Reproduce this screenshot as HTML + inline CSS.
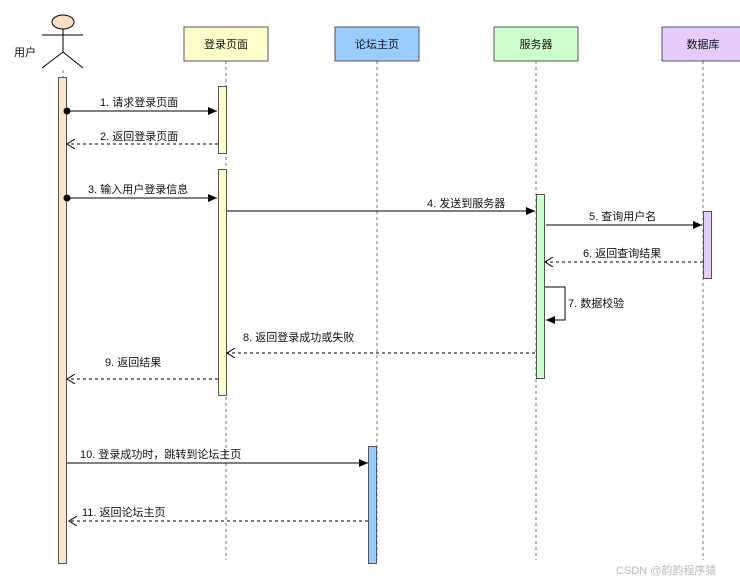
<!DOCTYPE html>
<html><head><meta charset="utf-8"><style>
html,body{margin:0;padding:0;background:#fff;}
svg{display:block}
text{font-family:"Liberation Sans","Noto Sans CJK SC",sans-serif;font-size:11px;fill:#111;}
</style></head><body>
<svg width="740" height="583" viewBox="0 0 740 583" xmlns="http://www.w3.org/2000/svg">
<defs>
<marker id="fa" markerWidth="10" markerHeight="8" refX="9" refY="4" orient="auto" markerUnits="userSpaceOnUse"><path d="M0,0 L9,4 L0,8 Z" fill="#000"/></marker>
<marker id="oa" markerWidth="10" markerHeight="10" refX="8" refY="5" orient="auto" markerUnits="userSpaceOnUse"><path d="M0,0 L8,5 L0,10" fill="none" stroke="#000"/></marker>
</defs>
<g stroke="#777" stroke-dasharray="3,3" stroke-width="1">
<line x1="63" y1="70" x2="63" y2="77"/>
<line x1="226" y1="61" x2="226" y2="560"/>
<line x1="377" y1="61" x2="377" y2="560"/>
<line x1="536" y1="61" x2="536" y2="560"/>
<line x1="703" y1="61" x2="703" y2="560"/>
</g>
<g stroke="#000" fill="none" stroke-width="1">
<ellipse cx="63" cy="22" rx="11" ry="7" fill="#ffdfc4"/>
<line x1="63" y1="29" x2="63" y2="52"/>
<line x1="42" y1="35" x2="83" y2="35"/>
<line x1="63" y1="52" x2="42" y2="68"/>
<line x1="63" y1="52" x2="83" y2="68"/>
</g>
<text x="14" y="56">用户</text>
<g stroke="#555" stroke-width="1">
<rect x="184" y="27" width="84" height="34" fill="#ffffcc"/>
<rect x="335" y="27" width="84" height="34" fill="#99ccff"/>
<rect x="494" y="27" width="84" height="34" fill="#ccffcc"/>
<rect x="662" y="27" width="84" height="34" fill="#e5ccff"/>
</g>
<text x="226" y="48" text-anchor="middle">登录页面</text>
<text x="377" y="48" text-anchor="middle">论坛主页</text>
<text x="536" y="48" text-anchor="middle">服务器</text>
<text x="703" y="48" text-anchor="middle">数据库</text>
<g stroke="#555" stroke-width="1">
<rect x="58.5" y="77.5" width="8" height="486" fill="#ffe4cc"/>
<rect x="218.5" y="86.5" width="8" height="67" fill="#ffffcc"/>
<rect x="218.5" y="169.5" width="8" height="226" fill="#ffffcc"/>
<rect x="368.5" y="446.5" width="8" height="117" fill="#99ccff"/>
<rect x="536.5" y="194.5" width="8" height="184" fill="#ccffcc"/>
<rect x="703.5" y="211.5" width="8" height="67" fill="#e5ccff"/>
</g>
<g stroke="#000" stroke-width="1" fill="none">
<line x1="67" y1="111" x2="217" y2="111" marker-end="url(#fa)"/>
<line x1="218" y1="144" x2="67" y2="144" stroke-dasharray="3,3" marker-end="url(#oa)"/>
<line x1="67" y1="198" x2="217" y2="198" marker-end="url(#fa)"/>
<line x1="227" y1="211" x2="535" y2="211" marker-end="url(#fa)"/>
<line x1="546" y1="225" x2="702" y2="225" marker-end="url(#fa)"/>
<line x1="703" y1="262" x2="545" y2="262" stroke-dasharray="3,3" marker-end="url(#oa)"/>
<polyline points="545,287 565,287 565,320 546,320" marker-end="url(#fa)"/>
<line x1="535" y1="353" x2="227" y2="353" stroke-dasharray="3,3" marker-end="url(#oa)"/>
<line x1="218" y1="379" x2="67" y2="379" stroke-dasharray="3,3" marker-end="url(#oa)"/>
<line x1="67" y1="463" x2="368" y2="463" marker-end="url(#fa)"/>
<line x1="368" y1="521" x2="69" y2="521" stroke-dasharray="3,3" marker-end="url(#oa)"/>
</g>
<circle cx="67" cy="111" r="3.5" fill="#000"/>
<circle cx="67" cy="198" r="3.5" fill="#000"/>
<text x="100" y="106">1. 请求登录页面</text>
<text x="100" y="140">2. 返回登录页面</text>
<text x="88" y="193">3. 输入用户登录信息</text>
<text x="427" y="207">4. 发送到服务器</text>
<text x="589" y="220">5. 查询用户名</text>
<text x="583" y="257">6. 返回查询结果</text>
<text x="568" y="307">7. 数据校验</text>
<text x="243" y="341">8. 返回登录成功或失败</text>
<text x="105" y="366">9. 返回结果</text>
<text x="80" y="458">10. 登录成功时，跳转到论坛主页</text>
<text x="82" y="516">11. 返回论坛主页</text>
<text x="616" y="574" style="fill:#bbb" font-size="11">CSDN @韵韵程序猿</text>
</svg>
</body></html>
